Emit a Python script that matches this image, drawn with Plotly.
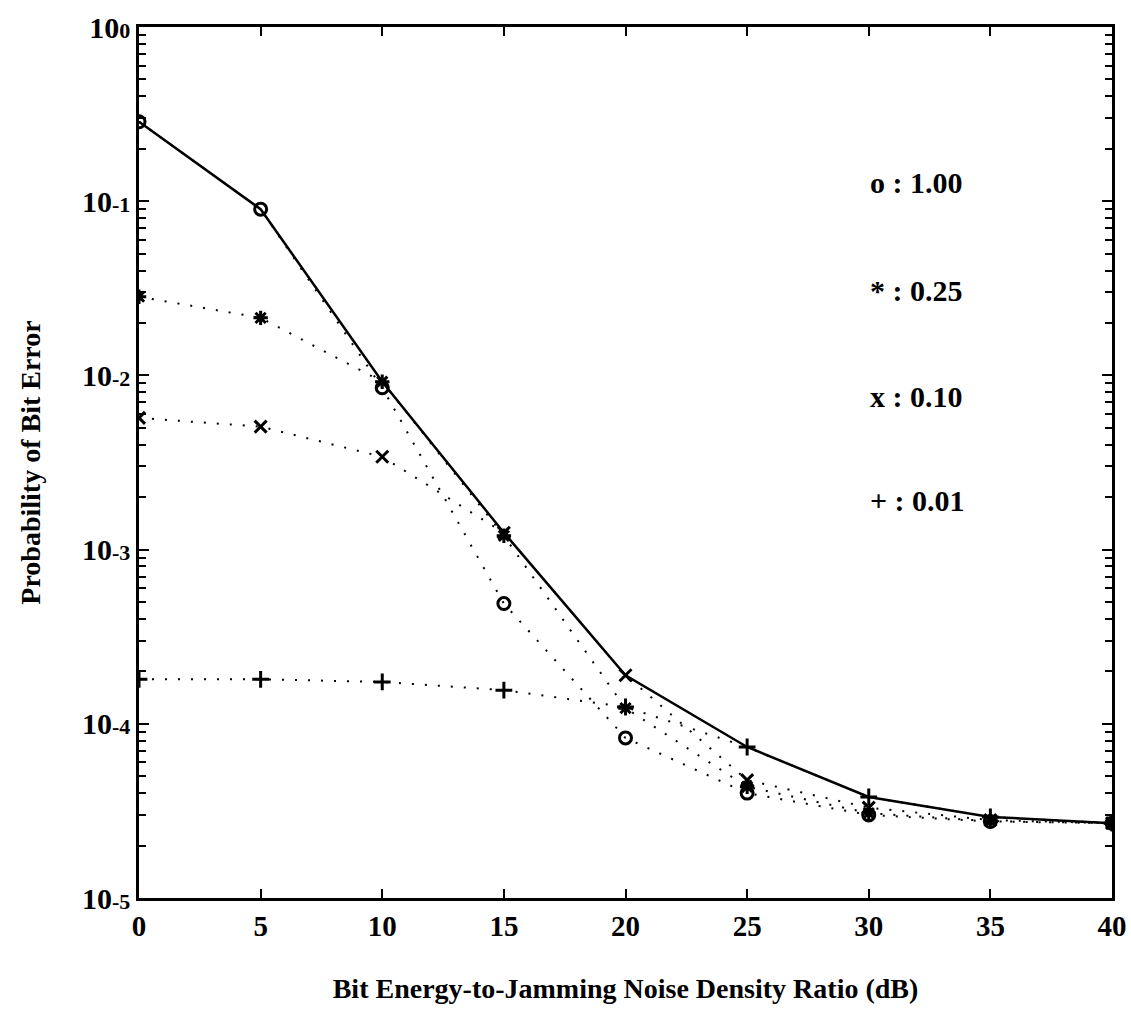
import plotly.graph_objects as go

ebj_db = [0, 5, 10, 15, 20, 25, 30, 35, 40]

rho_100 = [0.286, 0.090, 8.5e-3, 4.9e-4, 8.3e-5, 4.0e-5, 3.0e-5, 2.75e-5, 2.69e-5]
rho_025 = [0.0283, 0.0214, 9.2e-3, 1.2e-3, 1.23e-4, 4.35e-5, 3.07e-5, 2.76e-5, 2.69e-5]
rho_010 = [5.7e-3, 5.08e-3, 3.41e-3, 1.25e-3, 1.9e-4, 4.75e-5, 3.3e-5, 2.8e-5, 2.69e-5]
rho_001 = [1.8e-4, 1.8e-4, 1.74e-4, 1.56e-4, 1.25e-4, 7.36e-5, 3.8e-5, 2.92e-5, 2.69e-5]

series_labels = ["o : 1.00", "* : 0.25", "x : 0.10", "+ : 0.01"]
series_values = [rho_100, rho_025, rho_010, rho_001]
series_symbols = ["circle-open", "asterisk-open", "x-thin-open", "cross-thin-open"]

worst_case = [max(vals) for vals in zip(*series_values)]

ytick_vals = [1e-5, 1e-4, 1e-3, 1e-2, 1e-1, 1]
ytick_exp = ["-5", "-4", "-3", "-2", "-1", "0"]
ytick_text = ["10<span style='font-size:22px'>%s</span>" % e for e in ytick_exp]
xtick_vals = [0, 5, 10, 15, 20, 25, 30, 35, 40]

minor_vals = [m * 10 ** k for k in range(-5, 0) for m in range(2, 10)]

FONT = "Liberation Serif"

W, H = 1131, 1013
L, T = 139, 27
PW, PH = 1112 - 139, 898 - 27

fig = go.Figure()

for name, vals, sym in zip(series_labels, series_values, series_symbols):
    fig.add_trace(go.Scatter(
        x=ebj_db, y=vals, mode="lines+markers", name=name,
        line=dict(color="black", width=2, dash="2px,11px"),
        marker=dict(symbol=sym, size=12, color="black",
                    line=dict(color="black", width=3)),
        showlegend=False,
    ))

fig.add_trace(go.Scatter(
    x=ebj_db, y=worst_case, mode="lines",
    line=dict(color="black", width=2.5),
    showlegend=False,
))

legend_pos = [182, 290, 397, 500]
for name, py in zip(series_labels, legend_pos):
    fig.add_annotation(
        x=(868 - L) / PW, y=1 - (py - T) / PH,
        xref="paper", yref="paper", xanchor="left", yanchor="middle",
        text=name, showarrow=False,
        font=dict(family=FONT, size=30, color="black", weight="bold"),
    )

fig.update_layout(
    width=W, height=H,
    margin=dict(l=L, r=W - L - PW, t=T, b=H - T - PH, autoexpand=False),
    paper_bgcolor="white", plot_bgcolor="white",
    font=dict(family=FONT, size=28, color="black", weight="bold"),
    xaxis=dict(
        range=[0, 40], tickvals=xtick_vals, automargin=False,
        ticks="inside", ticklen=9, tickwidth=2, tickcolor="black",
        showline=True, linecolor="black", linewidth=2.5, mirror="ticks",
        showgrid=False, zeroline=False, ticklabeloverflow="allow",
        tickfont=dict(family=FONT, size=29, weight="bold"),
        title=dict(text="Bit Energy-to-Jamming Noise Density Ratio (dB)",
                   font=dict(family=FONT, size=28, weight="bold"), standoff=38),
    ),
    yaxis=dict(
        type="log", range=[-5, 0], tickvals=ytick_vals, ticktext=ytick_text,
        automargin=False,
        ticks="inside", ticklen=10, tickwidth=2, tickcolor="black",
        showline=True, linecolor="black", linewidth=2.5, mirror="ticks",
        showgrid=False, zeroline=False,
        tickfont=dict(family=FONT, size=30, weight="bold"),
        minor=dict(tickvals=minor_vals, ticks="inside", ticklen=7,
                   tickwidth=2, tickcolor="black", showgrid=False),
        title=dict(text="Probability of Bit Error",
                   font=dict(family=FONT, size=28, weight="bold"), standoff=34),
    ),
)

fig.write_html("out.html",
               config={"displayModeBar": False},
               post_script="document.body.style.margin='0';document.body.style.overflow='hidden';")
